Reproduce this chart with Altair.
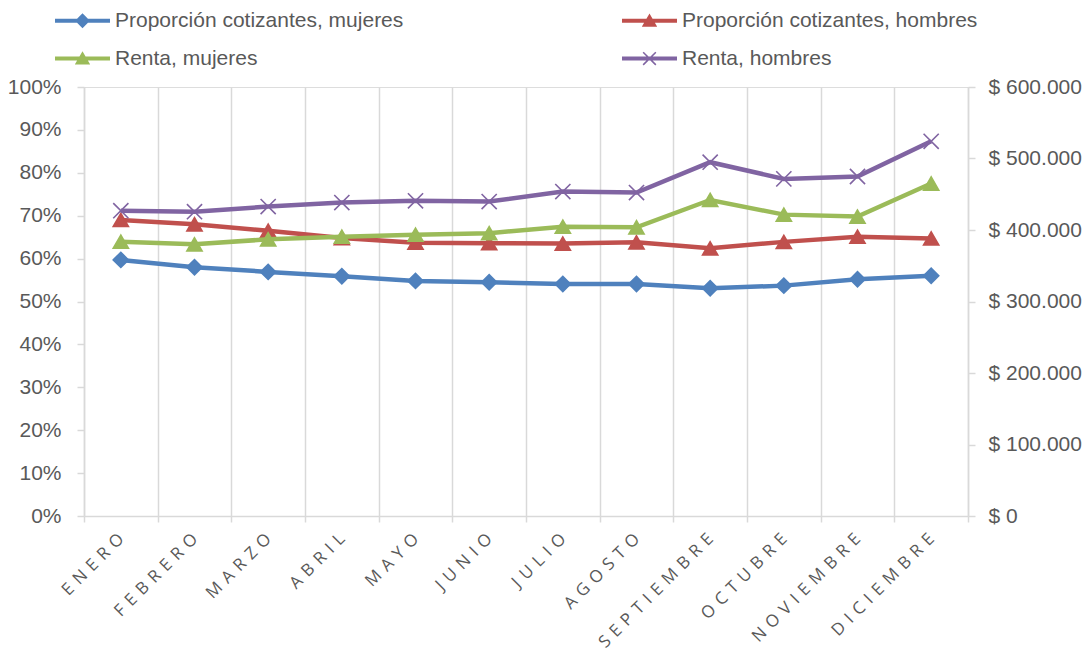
import altair as alt
import pandas as pd

meses = ["ENERO", "FEBRERO", "MARZO", "ABRIL", "MAYO", "JUNIO", "JULIO",
         "AGOSTO", "SEPTIEMBRE", "OCTUBRE", "NOVIEMBRE", "DICIEMBRE"]

series = ["Proporción cotizantes, mujeres", "Proporción cotizantes, hombres",
          "Renta, mujeres", "Renta, hombres"]
colores = ["#4f81bd", "#c0504d", "#9bbb59", "#8064a2"]

# percentages (left axis)
prop_mujeres = [59.7, 58.0, 56.9, 55.9, 54.8, 54.5, 54.1, 54.1, 53.1, 53.7, 55.2, 56.0]
prop_hombres = [69.0, 68.0, 66.5, 64.8, 63.7, 63.6, 63.5, 63.8, 62.4, 63.9, 65.1, 64.7]
# renta (right axis)
renta_mujeres = [383600, 380000, 387000, 390600, 393500, 395600, 404600, 403800, 442000, 421500, 418800, 465000]
renta_hombres = [427000, 425600, 432800, 438400, 440800, 439800, 453800, 452400, 494800, 471500, 474800, 524000]

FONT = "Liberation Sans"
XFONT = "Open Sans"
GRAY = "#d9d9d9"
TXT = "#595959"

left_df = pd.DataFrame({
    "mes": meses * 2,
    "serie": [series[0]] * 12 + [series[1]] * 12,
    "valor": prop_mujeres + prop_hombres,
})
right_df = pd.DataFrame({
    "mes": meses * 2,
    "serie": [series[2]] * 12 + [series[3]] * 12,
    "valor": renta_mujeres + renta_hombres,
})

color_scale = alt.Scale(domain=series, range=colores)
point_shapes = ["diamond", "triangle-up", "triangle-up", "M-1,-1L1,1M-1,1L1,-1"]
shape_scale = alt.Scale(domain=series, range=point_shapes)

legend_paths = [
    "M-1,-0.075H1V0.075H-1Z M0,-0.27L0.27,0L0,0.27L-0.27,0Z",
    "M-1,-0.075H1V0.075H-1Z M0,-0.26L0.28,0.22L-0.28,0.22Z",
    "M-1,-0.075H1V0.075H-1Z M0,-0.26L0.28,0.22L-0.28,0.22Z",
    "M-1,-0.075H1V0.075H-1Z M-0.25,-0.21L-0.21,-0.25L0.25,0.21L0.21,0.25Z M-0.25,0.21L0.21,-0.25L0.25,-0.21L-0.21,0.25Z",
]
# legend is laid out column by column: order entries so rows read as in the original
leg_order = [0, 2, 1, 3]
leg_domain = [series[i] for i in leg_order]
leg_colors = [colores[i] for i in leg_order]
leg_paths = [legend_paths[i] for i in leg_order]
legend_df = pd.DataFrame({"serie": leg_domain})

x_enc = alt.X(
    "mes:N", sort=meses, bandPosition=0.5,
    scale=alt.Scale(type="band", paddingInner=0, paddingOuter=0),
    axis=alt.Axis(
        title=None, tickBand="extent", grid=True, gridColor=GRAY, gridWidth=1.5,
        domainColor=GRAY, domainWidth=1.5, tickColor=GRAY, tickWidth=1.5, tickSize=6,
        labelAngle=-45, labelAlign="right", labelBaseline="middle",
        labelFont=XFONT, labelFontSize=17, labelColor=TXT, labelPadding=14,
        labelExpr="join(split(datum.label, ''), ' \u200a')",
    ),
)

y_left = alt.Y(
    "valor:Q", scale=alt.Scale(domain=[0, 100], nice=False),
    axis=alt.Axis(
        orient="left", title=None, values=list(range(0, 101, 10)), grid=False,
        domainColor=GRAY, domainWidth=1.5, tickColor=GRAY, tickWidth=1.5, tickSize=7,
        labelFont=FONT, labelFontSize=21, labelColor=TXT, labelPadding=16,
        labelExpr="datum.value + '%'",
    ),
)
y_right = alt.Y(
    "valor:Q", scale=alt.Scale(domain=[0, 600000], nice=False),
    axis=alt.Axis(
        orient="right", title=None, values=list(range(0, 600001, 100000)), grid=False,
        domainColor=GRAY, domainWidth=1.5, tickColor=GRAY, tickWidth=1.5, tickSize=7,
        labelFont=FONT, labelFontSize=21, labelColor=TXT, labelPadding=13,
        labelExpr="'$ ' + join(split(format(datum.value, ','), ','), '.')",
    ),
)


def series_layer(df, y_enc):
    base = alt.Chart(df)
    line = base.mark_line(strokeWidth=4.5).encode(
        x=x_enc, y=y_enc,
        color=alt.Color("serie:N", scale=color_scale, legend=None),
    )
    pts = base.mark_point(filled=True, size=230, strokeWidth=1.6, opacity=1).encode(
        x=x_enc, y=y_enc,
        fill=alt.Fill("serie:N", scale=color_scale, legend=None),
        stroke=alt.Stroke("serie:N", scale=color_scale, legend=None),
        shape=alt.Shape("serie:N", scale=shape_scale, legend=None),
    )
    return alt.layer(line, pts)


left = series_layer(left_df, y_left)
right = series_layer(right_df, y_right)

leg_cfg = dict(
    title=None, orient="none", legendX=-29, legendY=-94, columns=2,
    columnPadding=218, rowPadding=-6, symbolSize=3025, symbolStrokeWidth=0,
    labelFont=FONT, labelFontSize=21, labelColor=TXT, labelOffset=5,
    labelLimit=500,
)
legend_layer = alt.Chart(legend_df).transform_filter("false").mark_point(
    filled=True, opacity=1
).encode(
    color=alt.Color("serie:N", scale=alt.Scale(domain=leg_domain, range=leg_colors),
                    sort=leg_domain, legend=alt.Legend(**leg_cfg)),
    shape=alt.Shape("serie:N", scale=alt.Scale(domain=leg_domain, range=leg_paths),
                    sort=leg_domain, legend=alt.Legend(**leg_cfg)),
)

chart = alt.layer(left, right, legend_layer).resolve_scale(
    y="independent", color="independent", shape="independent",
    fill="independent", stroke="independent",
).properties(
    width=884, height=429,
    autosize=alt.AutoSizeParams(type="none"),
    padding={"left": 76, "top": 79, "right": 116, "bottom": 136},
).configure_view(stroke=None).configure(background="white")

chart.save("out.html", embed_options={"renderer": "svg", "actions": False})
